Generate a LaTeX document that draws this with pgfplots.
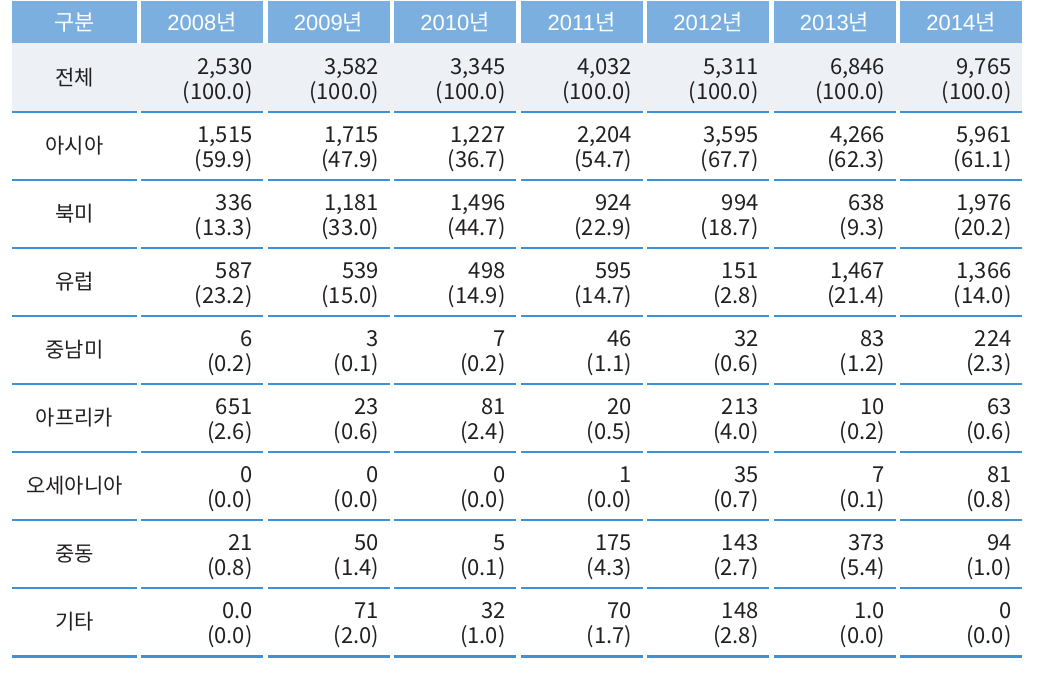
\documentclass[border=0pt]{standalone}
\usepackage{pgfplots}
\pgfplotsset{compat=1.18}
\usepackage{pgfplotstable}
\usepackage{fontspec}
\setmainfont{Noto Sans CJK KR}
\newfontfamily\hdrfont{Liberation Sans}
\definecolor{hdr}{HTML}{7BAFE0}
\definecolor{rule}{HTML}{3C91D7}
\definecolor{graybg}{HTML}{EDF1F6}
\definecolor{txt}{HTML}{231F20}

\pgfplotstableread{
row label v0 p0 v1 p1 v2 p2 v3 p3 v4 p4 v5 p5 v6 p6
0 전체 2,530 (100.0) 3,582 (100.0) 3,345 (100.0) 4,032 (100.0) 5,311 (100.0) 6,846 (100.0) 9,765 (100.0)
1 아시아 1,515 (59.9) 1,715 (47.9) 1,227 (36.7) 2,204 (54.7) 3,595 (67.7) 4,266 (62.3) 5,961 (61.1)
2 북미 336 (13.3) 1,181 (33.0) 1,496 (44.7) 924 (22.9) 994 (18.7) 638 (9.3) 1,976 (20.2)
3 유럽 587 (23.2) 539 (15.0) 498 (14.9) 595 (14.7) 151 (2.8) 1,467 (21.4) 1,366 (14.0)
4 중남미 6 (0.2) 3 (0.1) 7 (0.2) 46 (1.1) 32 (0.6) 83 (1.2) 224 (2.3)
5 아프리카 651 (2.6) 23 (0.6) 81 (2.4) 20 (0.5) 213 (4.0) 10 (0.2) 63 (0.6)
6 오세아니아 0 (0.0) 0 (0.0) 0 (0.0) 1 (0.0) 35 (0.7) 7 (0.1) 81 (0.8)
7 중동 21 (0.8) 50 (1.4) 5 (0.1) 175 (4.3) 143 (2.7) 373 (5.4) 94 (1.0)
8 기타 0.0 (0.0) 71 (2.0) 32 (1.0) 70 (1.7) 148 (2.8) 1.0 (0.0) 0 (0.0)
}\tbl

\newcommand{\yr}[1]{{\hdrfont #1}년}

\begin{document}
\begin{tikzpicture}
\begin{axis}[x=0.5pt, y=0.5pt, y dir=reverse,
  xmin=0, xmax=1037, ymin=0, ymax=680,
  hide axis, clip=false]
\path (axis cs:0,0) rectangle (axis cs:1037,680);
% gray background of total row
\fill[graybg] (axis cs:12,43) rectangle (axis cs:1022,111);
% row rules
\pgfplotsinvokeforeach{112,180,248,316,384,452,520,588}{
  \draw[rule, line width=0.75pt] (axis cs:12,#1) -- (axis cs:1022,#1);
}
\draw[rule, line width=1.5pt] (axis cs:12,656) -- (axis cs:1022,656);
% gaps between columns
\fill[white] (axis cs:137,110) rectangle (axis cs:141,660);
\fill[white] (axis cs:263,110) rectangle (axis cs:267.5,660);
\fill[white] (axis cs:389.5,110) rectangle (axis cs:394,660);
\fill[white] (axis cs:516,110) rectangle (axis cs:520.5,660);
\fill[white] (axis cs:642.5,110) rectangle (axis cs:647,660);
\fill[white] (axis cs:769,110) rectangle (axis cs:773.5,660);
\fill[white] (axis cs:895.5,110) rectangle (axis cs:900,660);
% header cells
\fill[hdr] (axis cs:12,1) rectangle (axis cs:137,43);
\fill[hdr] (axis cs:141,1) rectangle (axis cs:263,43);
\fill[hdr] (axis cs:267.5,1) rectangle (axis cs:389.5,43);
\fill[hdr] (axis cs:394,1) rectangle (axis cs:516,43);
\fill[hdr] (axis cs:520.5,1) rectangle (axis cs:642.5,43);
\fill[hdr] (axis cs:647,1) rectangle (axis cs:769,43);
\fill[hdr] (axis cs:773.5,1) rectangle (axis cs:895.5,43);
\fill[hdr] (axis cs:900,1) rectangle (axis cs:1022,43);
\begin{scope}[every node/.style={text=white, font=\fontsize{11}{13}\selectfont, inner sep=0pt, anchor=base}]
\node at (axis cs:74.5,30) {구분};
\node at (axis cs:202,30) {\yr{2008}};
\node at (axis cs:328.5,30) {\yr{2009}};
\node at (axis cs:455,30) {\yr{2010}};
\node at (axis cs:581.5,30) {\yr{2011}};
\node at (axis cs:708,30) {\yr{2012}};
\node at (axis cs:834.5,30) {\yr{2013}};
\node at (axis cs:961,30) {\yr{2014}};
\end{scope}
% row labels
\addplot[draw=none, mark=none, nodes near coords, point meta=explicit symbolic,
  every node near coord/.style={anchor=center, inner sep=0pt, text=txt, font=\fontsize{10.5}{12}\selectfont}]
  table[x expr=74.5, y expr={78+68*\thisrow{row}}, meta=label] {\tbl};
% values and shares
\pgfplotsinvokeforeach{0,...,6}{
\addplot[draw=none, mark=none, nodes near coords, point meta=explicit symbolic,
  every node near coord/.style={anchor=base east, inner sep=0pt, text=txt, font=\fontsize{11}{13}\selectfont}]
  table[x expr={253+126.5*#1}, y expr={74+68*\thisrow{row}}, meta=v#1] {\tbl};
\addplot[draw=none, mark=none, nodes near coords, point meta=explicit symbolic,
  every node near coord/.style={anchor=base east, inner sep=0pt, text=txt, font=\fontsize{11}{13}\selectfont}]
  table[x expr={253+126.5*#1}, y expr={99+68*\thisrow{row}}, meta=p#1] {\tbl};
}
\end{axis}
\end{tikzpicture}
\end{document}
